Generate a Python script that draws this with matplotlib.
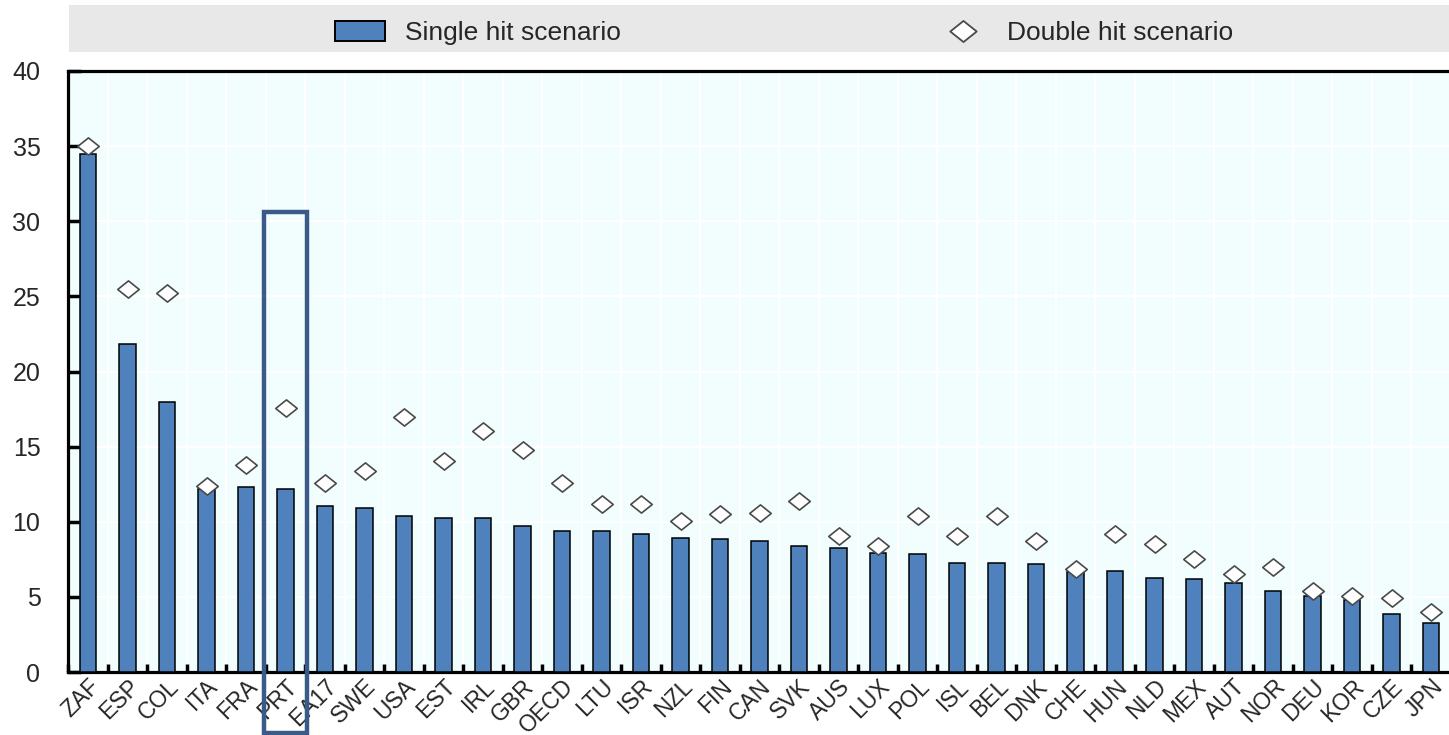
import matplotlib
matplotlib.use('Agg')
import matplotlib.pyplot as plt
import matplotlib.transforms as mtransforms
from matplotlib.patches import Rectangle, Patch
from matplotlib.lines import Line2D
from matplotlib.path import Path
import numpy as np

plt.rcParams['font.family'] = ['Liberation Sans', 'DejaVu Sans']

countries = ['ZAF', 'ESP', 'COL', 'ITA', 'FRA', 'PRT', 'EA17', 'SWE', 'USA', 'EST',
             'IRL', 'GBR', 'OECD', 'LTU', 'ISR', 'NZL', 'FIN', 'CAN', 'SVK', 'AUS',
             'LUX', 'POL', 'ISL', 'BEL', 'DNK', 'CHE', 'HUN', 'NLD', 'MEX', 'AUT',
             'NOR', 'DEU', 'KOR', 'CZE', 'JPN']
single_hit = [34.5, 21.8, 18.0, 12.2, 12.3, 12.15, 11.05, 10.9, 10.4, 10.27,
              10.27, 9.71, 9.38, 9.38, 9.16, 8.94, 8.83, 8.72, 8.38, 8.27,
              7.94, 7.83, 7.27, 7.27, 7.16, 6.65, 6.72, 6.27, 6.16, 5.94,
              5.39, 5.06, 4.79, 3.84, 3.28]
double_hit = [35.0, 25.5, 25.2, 12.4, 13.8, 17.6, 12.6, 13.4, 16.95, 14.06,
              16.03, 14.8, 12.6, 11.15, 11.15, 10.05, 10.49, 10.6, 11.4, 9.07,
              8.4, 10.38, 9.07, 10.38, 8.72, 6.85, 9.16, 8.5, 7.5, 6.52,
              6.97, 5.41, 5.08, 4.94, 3.97]
highlight = 'PRT'

W, H = 1449, 735
txt_color = '#262626'
bar_color = '#4F81BD'

fig = plt.figure(figsize=(W / 100, H / 100), dpi=100)

# axes placed in pixel terms of the reference
step = 39.5
x0 = 88 - step / 2
ax = fig.add_axes([x0 / W, (H - 672) / H, step * len(countries) / W, (672 - 71) / H])
ax.set_facecolor('#F2FEFE')

x = np.arange(len(countries))
ax.bar(x, single_hit, width=0.43, color=bar_color, edgecolor='black', linewidth=1.1, zorder=3)

# diamond a bit wider than tall
diamond = Path([(-1, 0), (0, 0.8), (1, 0), (0, -0.8), (-1, 0)],
               [Path.MOVETO, Path.LINETO, Path.LINETO, Path.LINETO, Path.CLOSEPOLY])
ax.plot(x, double_hit, linestyle='none', marker=diamond, markersize=15.5,
        markerfacecolor='white', markeredgecolor='#4a4a4a', markeredgewidth=1.2, zorder=4)

ax.set_xlim(-0.5, len(countries) - 0.5)
ax.set_ylim(0, 40)
ax.set_yticks(np.arange(0, 41, 5))
ax.set_xticks(x)
ax.set_xticklabels(countries, rotation=45, ha='right', va='top', rotation_mode='anchor',
                   fontsize=16.5, color=txt_color)
shift = mtransforms.ScaledTranslation(4 / 100, 2 / 100, fig.dpi_scale_trans)
for lab in ax.get_xticklabels():
    lab.set_transform(lab.get_transform() + shift)
ax.set_xticks(np.arange(-0.5, len(countries), 1), minor=True)
ax.tick_params(axis='x', which='major', length=0, pad=2)
ax.tick_params(axis='x', which='minor', direction='in', length=6, width=2.5, color='black')
ax.tick_params(axis='y', direction='in', length=9, width=2.5, labelsize=18, pad=20,
               labelcolor=txt_color)

# white grid
for v in np.arange(5, 40, 5):
    ax.axhline(v, color='white', linewidth=1.5, zorder=1)
for b in np.arange(0.5, len(countries) - 0.5, 1):
    ax.axvline(b, color='white', linewidth=1.5, zorder=1)

for s in ['left', 'bottom', 'top']:
    ax.spines[s].set_linewidth(2.3)
    ax.spines[s].set_color('black')
ax.spines['right'].set_visible(False)

# highlight box around PRT
i = countries.index(highlight)
ax.add_patch(Rectangle((i - 0.545, -4.05), 1.09, 34.65, fill=False,
                       edgecolor='#3A5A8A', linewidth=3.2, clip_on=False, zorder=6))

# legend band
fig.patches.append(Rectangle((69 / W, (H - 52) / H), (W - 69) / W, 47 / H,
                             transform=fig.transFigure, facecolor='#E8E8E8',
                             edgecolor='none', zorder=0))
handles = [Patch(facecolor=bar_color, edgecolor='black', linewidth=1.4),
           Line2D([], [], linestyle='none', marker=diamond, markersize=19,
                  markerfacecolor='white', markeredgecolor='#4a4a4a', markeredgewidth=1.3)]
fig.legend(handles, ['Single hit scenario', 'Double hit scenario'], ncol=2,
           loc='center left', bbox_to_anchor=(335 / W, (H - 33) / H),
           frameon=False, fontsize=19, handlelength=1.9, handleheight=0.8,
           handletextpad=0.75, columnspacing=12.0, borderpad=0, borderaxespad=0,
           labelcolor=txt_color)

fig.savefig('out.png', dpi=100)
